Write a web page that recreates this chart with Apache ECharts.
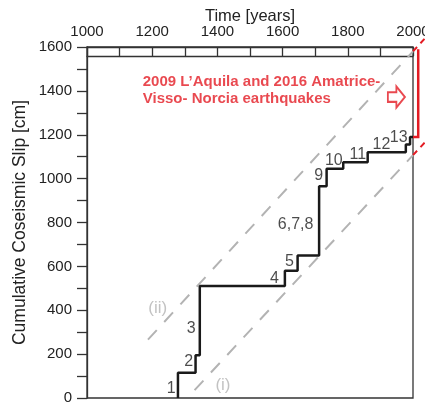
<!DOCTYPE html>
<html><head><meta charset="utf-8">
<script src="https://cdn.jsdelivr.net/npm/echarts@6/dist/echarts.min.js"></script>
<style>html,body{margin:0;padding:0;background:#fff}#c{width:425px;height:404px}</style>
</head><body><div id="c"></div>
<script>
// ---- data ----
const stepYears = [1279, 1333, 1346, 1607, 1646, 1712, 1735, 1786, 1861, 1978, 1991];
const slipAfter = [115, 195, 510, 580, 650, 965, 1045, 1075, 1120, 1155, 1190];
const blackEndYear = 2000;
const redYears = [2000, 2016];
const redSlip = [1190, 1590];
const lineI = [[1330, 36], [2000, 1107]];
const lineIext = [[2000, 1107], [2037, 1166]];
const lineII = [[1187, 266], [2000, 1580]];
const lineIIext = [[2000, 1580], [2037, 1640]];
const eventLabels = ['1', '2', '3', '4', '5', '6,7,8', '9', '10', '11', '12', '13'];
const eventLabelPos = [[1258, 44], [1312, 165], [1320, 317], [1575, 546], [1621, 621], [1640, 792], [1711, 1012], [1757, 1082], [1831, 1108], [1903, 1153], [1956, 1188]];
const lineLabels = ['(i)', '(ii)'];
const lineLabelPos = [[1417, 59], [1217, 409]];
const noteText = "2009 L\u2019Aquila and 2016 Amatrice-\nVisso- Norcia earthquakes";
const notePos = [1171, 1401];
const arrowPos = [1949, 1372];
const xTicks = [1000, 1200, 1400, 1600, 1800, 2000];

// ---- build ----
const stair = [[stepYears[0], 0]];
for (let i = 0; i < stepYears.length; i++) {
  if (i > 0) stair.push([stepYears[i], slipAfter[i - 1]]);
  stair.push([stepYears[i], slipAfter[i]]);
}
stair.push([blackEndYear, slipAfter[slipAfter.length - 1]]);
const red = [[redYears[0], redSlip[0]], [redYears[1], redSlip[0]], [redYears[1], redSlip[1]]];

const FONT = '"Liberation Sans", Arial, sans-serif';
const RED = '#e31c24';
const GRAY = '#b3b3b3';
const AX = '#333';

// custom polyline series that can draw past the plot edge
function polySeries(points, style) {
  return {
    type: 'custom', clip: false, silent: true, z: style.z || 3,
    data: [0],
    encode: {x: -1, y: -1},
    renderItem: function (params, api) {
      const pts = points.map(p => api.coord(p));
      return {type: 'polyline', shape: {points: pts},
        style: {stroke: style.color, lineWidth: style.width, lineDash: style.dash || null, fill: null}};
    }
  };
}

const chart = echarts.init(document.getElementById('c'), null, {renderer: 'canvas'});
chart.setOption({
  animation: false,
  grid: {left: 87, right: 12, top: 47, bottom: 6, show: true, borderColor: AX, borderWidth: 1.3,
    backgroundColor: 'transparent', containLabel: false, outerBoundsMode: 'none'},
  xAxis: [{
    type: 'value', position: 'top', min: 1000, max: 2000, interval: 100,
    name: 'Time [years]', nameLocation: 'middle', nameGap: 22, nameMoveOverlap: false,
    nameTextStyle: {fontFamily: FONT, fontSize: 16.5, color: '#222'},
    axisLine: {show: true, onZero: false, lineStyle: {color: AX, width: 1.3}},
    axisTick: {show: true, inside: true, length: 9, lineStyle: {color: AX, width: 1.3}},
    axisLabel: {margin: 8, fontFamily: FONT, fontSize: 15, color: '#222',
      formatter: v => xTicks.indexOf(v) >= 0 ? String(v) : ''},
    splitLine: {show: false}
  }, {
    type: 'value', position: 'top', offset: -9, min: 1000, max: 2000,
    axisLine: {show: true, onZero: false, lineStyle: {color: AX, width: 1.3}},
    axisTick: {show: false}, axisLabel: {show: false}, splitLine: {show: false}
  }],
  yAxis: [{
    type: 'value', min: 0, max: 1600, interval: 100,
    name: 'Cumulative Coseismic Slip [cm]', nameLocation: 'middle', nameGap: 58, nameRotate: 90, nameMoveOverlap: false,
    nameTextStyle: {fontFamily: FONT, fontSize: 17.5, color: '#222'},
    axisLine: {show: true, lineStyle: {color: AX, width: 1.3}},
    axisTick: {show: true, inside: false, length: 10, lineStyle: {color: AX, width: 1.3}},
    axisLabel: {margin: 15, fontFamily: FONT, fontSize: 15, color: '#222',
      formatter: v => v % 200 === 0 ? String(v) : ''},
    splitLine: {show: false}
  }],
  series: [
    {type: 'line', data: lineI, symbol: 'none', lineStyle: {color: GRAY, width: 2, type: [13, 11]}, z: 2},
    {type: 'line', data: lineII, symbol: 'none', lineStyle: {color: GRAY, width: 2, type: [13, 11]}, z: 2},
    polySeries(lineIext, {color: RED, width: 2, dash: [6, 5], z: 2}),
    polySeries(lineIIext, {color: RED, width: 2, dash: [6, 5], z: 2}),
    {type: 'line', data: stair, symbol: 'none', lineStyle: {color: '#1a1a1a', width: 2.5}, z: 4},
    polySeries(red, {color: RED, width: 2.5, z: 4}),
    {type: 'scatter', symbolSize: 0.1, z: 5, silent: true,
      data: eventLabels.map((t, i) => ({value: eventLabelPos[i], name: t})),
      label: {show: true, position: 'inside', formatter: p => p.name, fontFamily: FONT, fontSize: 16, color: '#1e1e1e'}},
    {type: 'scatter', symbolSize: 0.1, z: 5, silent: true,
      data: lineLabels.map((t, i) => ({value: lineLabelPos[i], name: t})),
      label: {show: true, position: 'inside', formatter: p => p.name, fontFamily: FONT, fontSize: 17, color: GRAY}},
    {type: 'scatter', symbolSize: 0.1, z: 5, silent: true,
      data: [{value: notePos, name: noteText}],
      label: {show: true, position: 'inside', align: 'left', formatter: p => p.name, fontFamily: FONT, fontSize: 15, fontWeight: 'bold', color: RED, lineHeight: 17}},
    {type: 'scatter', z: 5, silent: true, data: [arrowPos],
      symbol: 'path://M0,6 L9,6 L9,0 L18,11 L9,22 L9,16 L0,16 Z', symbolSize: [17, 21],
      itemStyle: {color: 'rgba(255,255,255,0)', borderColor: RED, borderWidth: 2}}
  ]
});
</script></body></html>
